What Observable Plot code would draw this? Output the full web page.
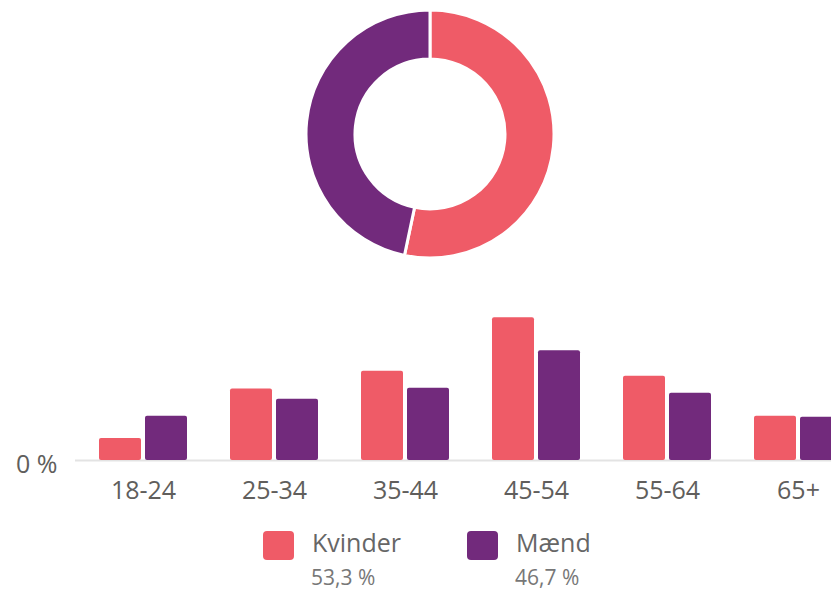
<!DOCTYPE html>
<html>
<head>
<meta charset="utf-8">
<script src="https://cdn.jsdelivr.net/npm/d3@7"></script>
<script src="https://cdn.jsdelivr.net/npm/@observablehq/plot@0.6"></script>
<style>
  html, body { margin: 0; padding: 0; background: #fff; }
  #wrap { position: relative; width: 831px; height: 595px; overflow: hidden; font-family: "Open Sans", sans-serif; }
  #donut { position: absolute; left: 300px; top: 4px; width: 260px; }
  #bars { position: absolute; left: 0; top: 270px; width: 866px; }
  #bars svg, #donut svg { max-width: none !important; }
  .leg { position: absolute; top: 531px; }
  .sw { position: absolute; left: 0; top: 0; width: 31px; height: 29px; border-radius: 4px; }
  .lab { position: absolute; left: 49px; top: -6px; font-size: 25px; color: #666; white-space: nowrap; }
  .pct { position: absolute; left: 48px; top: 32px; font-size: 21px; color: #777; white-space: nowrap; }
</style>
</head>
<body>
<div id="wrap">
  <div id="donut"></div>
  <div id="bars"></div>
  <div id="legend"></div>
</div>
<script>
// ---- data ----
const ages = ["18-24", "25-34", "35-44", "45-54", "55-64", "65+"];
const kvinder = [2.6, 8.4, 10.5, 16.8, 9.9, 5.2];
const maend = [5.2, 7.2, 8.5, 12.9, 7.9, 5.1];
const genders = ["Kvinder", "Mænd"];
const shares = [53.3, 46.7];
const colors = ["#EF5B67", "#722A7C"];
const zeroLabel = "0 %";

const FONT = "Open Sans, sans-serif";
const TEXT = "#605e5c";

// ---- donut ----
const donut = Plot.plot({
  width: 260,
  height: 260,
  margin: 0,
  style: { background: "transparent", maxWidth: "none" },
  marks: [
    (index, scales, values, dimensions) => {
      const cx = dimensions.width / 2, cy = dimensions.height / 2;
      const pie = d3.pie().sort(null).value(d => d.v)(genders.map((g, i) => ({ g, v: shares[i], c: colors[i] })));
      const arc = d3.arc().innerRadius(75).outerRadius(124);
      const g = d3.create("svg:g").attr("transform", `translate(${cx},${cy})`);
      g.selectAll("path").data(pie).join("path")
        .attr("d", arc)
        .attr("fill", d => d.data.c)
        .attr("stroke", "#fff")
        .attr("stroke-width", 3);
      return g.node();
    }
  ]
});
document.getElementById("donut").appendChild(donut);

// ---- bars ----
const rowsK = ages.map((a, i) => ({ age: a, value: kvinder[i] }));
const rowsM = ages.map((a, i) => ({ age: a, value: maend[i] }));

const bars = Plot.plot({
  width: 866,
  height: 250,
  marginLeft: 75,
  marginRight: 0,
  marginTop: 20,
  marginBottom: 60,
  style: { fontFamily: FONT, background: "transparent", overflow: "visible", maxWidth: "none" },
  x: { domain: ages, paddingInner: 0.3282, paddingOuter: 0.183, axis: null },
  y: { domain: [0, 20], axis: null },
  marks: [
    Plot.ruleY([0], { stroke: "#e3e3e3", strokeWidth: 2 }),
    Plot.barY(rowsK, { x: "age", y: "value", fill: colors[0], insetRight: 46, rx: 2 }),
    Plot.barY(rowsM, { x: "age", y: "value", fill: colors[1], insetLeft: 46, rx: 2 }),
    Plot.text(ages, { x: d => d, frameAnchor: "bottom", dy: 30, text: d => d, fontSize: 25, fill: TEXT, lineAnchor: "middle" }),
    Plot.text([0], { y: d => d, frameAnchor: "left", dx: -18, dy: 4, text: () => zeroLabel, textAnchor: "end", fontSize: 25, fill: TEXT, lineAnchor: "middle" })
  ]
});
document.getElementById("bars").appendChild(bars);

// ---- legend ----
const legend = document.getElementById("legend");
const legX = [263, 467];
genders.forEach((g, i) => {
  const d = document.createElement("div");
  d.className = "leg";
  d.style.left = legX[i] + "px";
  d.innerHTML = `<div class="sw" style="background:${colors[i]}"></div>
    <div class="lab">${g}</div>
    <div class="pct">${shares[i].toFixed(1).replace(".", ",")} %</div>`;
  legend.appendChild(d);
});
</script>
</body>
</html>
